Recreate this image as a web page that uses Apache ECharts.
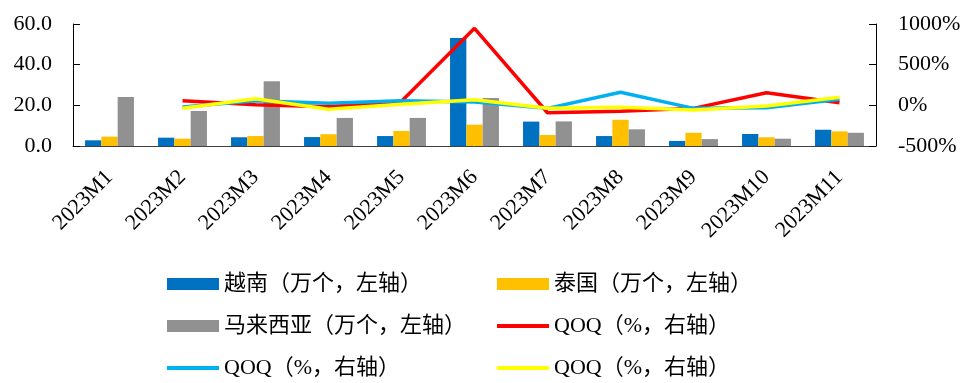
<!DOCTYPE html>
<html>
<head>
<meta charset="utf-8">
<script src="https://cdn.jsdelivr.net/npm/echarts@6/dist/echarts.min.js"></script>
<style>
  html, body { margin: 0; padding: 0; background: #fff; }
  #chart { width: 964px; height: 383px; }
</style>
</head>
<body>
<div id="chart"></div>
<script>
// months
const categories = ['2023M1', '2023M2', '2023M3', '2023M4', '2023M5', '2023M6',
  '2023M7', '2023M8', '2023M9', '2023M10', '2023M11'];

// shipments, 万个 (left axis)
const vietnam  = [2.8, 4.1, 4.3, 4.4, 4.9, 53.1, 12.0, 4.9, 2.5, 5.9, 8.0];
const thailand = [4.6, 3.6, 4.9, 5.8, 7.4, 10.5, 5.4, 12.9, 6.5, 4.3, 7.2];
const malaysia = [24.1, 17.2, 31.8, 13.8, 13.8, 23.6, 12.1, 8.2, 3.4, 3.6, 6.5];

// QOQ, % (right axis)
const qoqRed    = [null, 57, 7, -17, 50, 947, -91, -74, -37, 155, 32];
const qoqBlue   = [null, -21, 57, 25, 57, 40, -37, 160, -37, -30, 74];
const qoqYellow = [null, -37, 81, -49, 12, 69, -37, -25, -58, -9, 98];

const leftTicks = [0, 60, 20];      // min, max, interval
const rightTicks = [-500, 1000, 500];

const QOQ = 'QOQ（%，右轴）';
const serif = "'Liberation Serif', 'Noto Sans CJK SC'";

const chart = echarts.init(document.getElementById('chart'));

// one legend per item so they sit in a 2-column grid like the original
const legendItems = [
  { name: '越南（万个，左轴）', left: 167, top: 273, h: 12 },
  { name: '泰国（万个，左轴）', left: 497, top: 273, h: 12 },
  { name: '马来西亚（万个，左轴）', left: 167, top: 315, h: 12 },
  { name: 'q1', left: 497, top: 315, h: 4 },
  { name: 'q2', left: 167, top: 357, h: 4 },
  { name: 'q3', left: 497, top: 357, h: 4 }
];
const legends = legendItems.map(it => ({
  data: [it.name],
  left: it.left,
  top: it.top,
  padding: 0,
  icon: 'rect',
  itemWidth: 52,
  itemHeight: it.h,
  formatter: n => (n.startsWith('q') ? QOQ : n),
  textStyle: { fontFamily: serif, fontSize: 22, color: '#000' }
}));

const lineSeries = (name, data, color) => ({
  name: name,
  type: 'line',
  yAxisIndex: 1,
  data: data,
  symbol: 'none',
  connectNulls: false,
  lineStyle: { color: color, width: 3.5 },
  itemStyle: { color: color }
});

const barSeries = (name, data, color) => ({
  name: name,
  type: 'bar',
  data: data,
  barGap: '0%',
  barCategoryGap: '33%',
  itemStyle: { color: color }
});

chart.setOption({
  animation: false,
  legend: legends,
  grid: { left: 73, right: 88, top: 24, bottom: 237 },
  xAxis: {
    type: 'category',
    data: categories,
    axisLine: { lineStyle: { color: '#404040', width: 1 } },
    axisTick: { inside: true, length: 6, lineStyle: { color: '#404040' } },
    axisLabel: {
      rotate: 45,
      margin: 28,
      fontFamily: serif,
      fontSize: 22,
      color: '#000'
    }
  },
  yAxis: [
    {
      type: 'value',
      min: leftTicks[0],
      max: leftTicks[1],
      interval: leftTicks[2],
      splitLine: { show: false },
      axisLine: { show: true, lineStyle: { color: '#000' } },
      axisTick: { show: true, inside: true, length: 7, lineStyle: { color: '#000' } },
      axisLabel: {
        margin: 21,
        fontFamily: serif,
        fontSize: 22,
        color: '#000',
        formatter: v => v.toFixed(1)
      }
    },
    {
      type: 'value',
      min: rightTicks[0],
      max: rightTicks[1],
      interval: rightTicks[2],
      splitLine: { show: false },
      axisLine: { show: true, lineStyle: { color: '#000' } },
      axisTick: { show: true, inside: true, length: 7, lineStyle: { color: '#000' } },
      axisLabel: {
        margin: 22,
        fontFamily: serif,
        fontSize: 22,
        color: '#000',
        formatter: v => v + '%'
      }
    }
  ],
  series: [
    barSeries('越南（万个，左轴）', vietnam, '#0070C0'),
    barSeries('泰国（万个，左轴）', thailand, '#FFC000'),
    barSeries('马来西亚（万个，左轴）', malaysia, '#919191'),
    lineSeries('q1', qoqRed, '#FF0000'),
    lineSeries('q2', qoqBlue, '#00B0F0'),
    lineSeries('q3', qoqYellow, '#FFFF00')
  ]
});
</script>
</body>
</html>
